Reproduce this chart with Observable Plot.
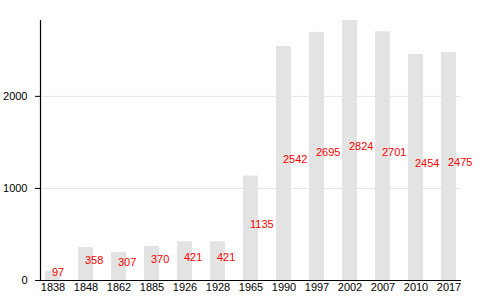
<!DOCTYPE html>
<html>
<head>
<meta charset="utf-8">
<script src="https://cdn.jsdelivr.net/npm/d3@7"></script>
<script src="https://cdn.jsdelivr.net/npm/@observablehq/plot@0.6"></script>
<style>
  html, body { margin: 0; padding: 0; background: #fff; }
  #chart svg { display: block; }
</style>
</head>
<body>
<div id="chart"></div>
<script>
const years = ["1838","1848","1862","1885","1926","1928","1965","1990","1997","2002","2007","2010","2017"];
const population = [97, 358, 307, 370, 421, 421, 1135, 2542, 2695, 2824, 2701, 2454, 2475];
const yTicks = [0, 1000, 2000];

const data = years.map((y, i) => ({year: y, value: population[i]}));

const chart = Plot.plot({
  width: 500,
  height: 300,
  marginLeft: 40,
  marginRight: 39,
  marginTop: 20,
  marginBottom: 20,
  style: {fontFamily: "'Liberation Sans', Arial, sans-serif", fontSize: "11px", background: "#fff"},
  x: {type: "band", domain: years, paddingInner: 0.54, paddingOuter: 0, label: null},
  y: {domain: [0, 2824], label: null},
  marks: [
    Plot.gridY(yTicks, {stroke: "#e6e6e6", strokeOpacity: 1}),
    Plot.barY(data, {x: "year", y: "value", fill: "#e3e3e3"}),
    Plot.text(data, {x: "year", y: d => d.value / 2, text: d => String(d.value), fill: "red", textAnchor: "start", dx: -1, dy: -4, fontSize: 11}),
    Plot.axisY(yTicks, {tickSize: 5, tickPadding: 8, stroke: "#000", fill: "#000", fontSize: 11, tickFormat: d => String(d)}),
    Plot.axisX({tickSize: 0, tickPadding: 3, fill: "#000", fontSize: 11}),
    Plot.ruleY([0], {stroke: "#000", strokeWidth: 1.2}),
    Plot.frame({anchor: "left", stroke: "#000", strokeWidth: 1.2})
  ]
});
document.getElementById("chart").appendChild(chart);
</script>
</body>
</html>
